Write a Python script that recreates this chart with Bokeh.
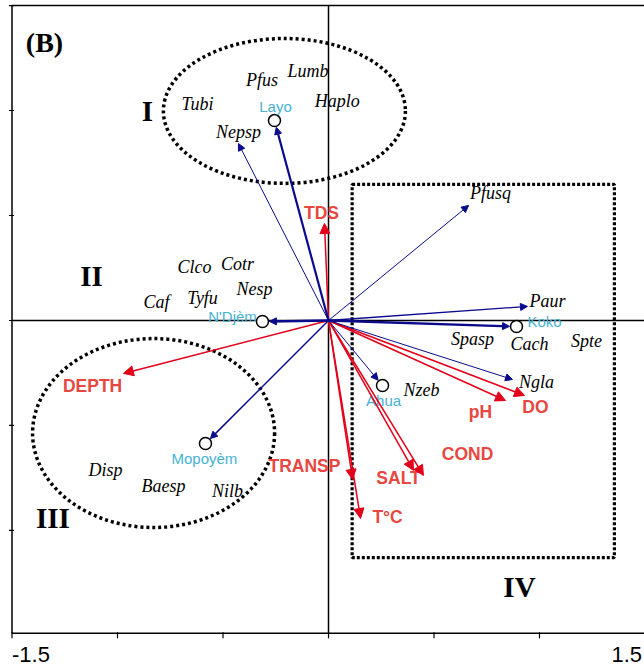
from bokeh.plotting import figure
from bokeh.models import Range1d, Arrow, NormalHead, ColumnDataSource
from bokeh.core.properties import value
from bokeh.embed import file_html
from bokeh.resources import INLINE

# ---------------- data ----------------
# environmental variables (red arrows)
env_names = ["TDS", "DEPTH", "TRANSP", "T°C", "SALT", "COND", "pH", "DO"]
env_x = [-0.019, -0.972, 0.114, 0.152, 0.403, 0.450, 0.839, 0.929]
env_y = [0.462, -0.252, -0.757, -0.943, -0.714, -0.738, -0.381, -0.357]
env_lab_x = [-0.033, -1.118, -0.114, 0.280, 0.332, 0.659, 0.720, 0.981]
env_lab_y = [0.514, -0.310, -0.695, -0.938, -0.752, -0.638, -0.438, -0.414]

# sampling sites (circles + navy arrows)
site_names = ["Layo", "Koko", "Ahua", "N'Djèm", "Mopoyèm"]
site_x = [-0.256, 0.891, 0.256, -0.313, -0.583]
site_y = [0.952, -0.029, -0.310, -0.005, -0.586]
site_w = [2.2, 2.4, 1.0, 2.4, 1.5]
site_lab_x = [-0.251, 1.024, 0.261, -0.455, -0.588]
site_lab_y = [1.019, -0.005, -0.381, 0.019, -0.657]

# species with arrows
sp_arrow_names = ["Nepsp", "Pfusq", "Paur", "Ngla"]
sp_arrow_x = [-0.427, 0.664, 0.943, 0.872]
sp_arrow_y = [0.843, 0.548, 0.067, -0.281]
sp_arrow_w = [1.0, 1.0, 1.3, 1.0]

# species labels
sp_names = ["Lumb", "Pfus", "Tubi", "Haplo", "Nepsp", "Pfusq", "Clco", "Cotr",
            "Nesp", "Caf", "Tyfu", "Paur", "Spasp", "Cach", "Spte", "Ngla",
            "Nzeb", "Disp", "Baesp", "Nilb"]
sp_x = [-0.097, -0.315, -0.621, 0.042, -0.427, 0.768, -0.635, -0.431,
        -0.351, -0.815, -0.597, 1.038, 0.682, 0.953, 1.223, 0.986,
        0.441, -1.057, -0.782, -0.479]
sp_y = [1.187, 1.143, 1.029, 1.044, 0.900, 0.605, 0.257, 0.271,
        0.152, 0.086, 0.105, 0.095, -0.090, -0.114, -0.100, -0.295,
        -0.333, -0.710, -0.790, -0.810]

# groups
grp_ell_x = [-0.209, -0.829]
grp_ell_y = [0.998, -0.536]
grp_ell_w = [1.147, 1.147]
grp_ell_h = [0.690, 0.900]
grp_rect = dict(left=[0.112], right=[1.355], top=[0.648], bottom=[-1.129])
grp_names = ["I", "II", "III", "IV"]
grp_lab_x = [-0.858, -1.123, -1.306, 0.905]
grp_lab_y = [1.000, 0.214, -0.943, -1.267]
panel_label = "(B)"
panel_lab_x, panel_lab_y = -1.346, 1.324

# axes
ax_x_min, ax_x_max = -1.5, 1.5
ax_y_min, ax_y_max = -1.49, 1.5
x_ticks = [-1.5, -1.0, -0.5, 0.0, 0.5, 1.0, 1.5]
y_ticks = [-1.0, -0.5, 0.0, 0.5, 1.0, 1.5]
x_tick_labels = ["-1.5", "1.5"]
x_tick_lab_pos = [-1.5, 1.5]
x_tick_lab_y = -1.59

# ---------------- styles ----------------
RED = "#E2001A"
RED_TXT = "#E84640"
NAVY = "#0A0A8C"
CYAN = "#45B2D3"

p = figure(width=644, height=670,
           x_range=Range1d(-1.5545, 1.4976), y_range=Range1d(-1.667, 1.524),
           output_backend="svg", toolbar_location=None,
           x_axis_location=None, y_axis_location=None,
           min_border=0)
p.xgrid.visible = False
p.ygrid.visible = False
p.outline_line_color = None

# frame box
p.quad(left=[ax_x_min], right=[ax_x_max], top=[ax_y_max], bottom=[ax_y_min],
       fill_color=None, line_color="black", line_width=1.5)
# ticks (left axis: 3px out, 2px in; bottom axis: 5px out, 1px in)
dx_out, dx_in = 3 / 211, 2 / 211
dy_out, dy_in = 5 / 210, 1 / 210
p.segment(x0=[ax_x_min - dx_out] * len(y_ticks), x1=[ax_x_min + dx_in] * len(y_ticks),
          y0=y_ticks, y1=y_ticks, line_color="black", line_width=1.2)
p.segment(x0=x_ticks, x1=x_ticks, y0=[ax_y_min - dy_out] * len(x_ticks),
          y1=[ax_y_min + dy_in] * len(x_ticks), line_color="black", line_width=1.2)
# centre axes
p.segment(x0=[0, ax_x_min], y0=[ax_y_min, 0], x1=[0, ax_x_max], y1=[ax_y_max, 0],
          line_color="black", line_width=1.5)

# tick labels
p.text(x=x_tick_lab_pos[:1], y=[x_tick_lab_y], text=x_tick_labels[:1],
       text_font=value("Liberation Sans"), text_font_size="22px", text_color="black",
       text_align="left", text_baseline="middle")
p.text(x=x_tick_lab_pos[1:], y=[x_tick_lab_y], text=x_tick_labels[1:],
       text_font=value("Liberation Sans"), text_font_size="22px", text_color="black",
       text_align="right", text_baseline="middle", x_offset=-3)

# groups
p.ellipse(x=grp_ell_x, y=grp_ell_y, width=grp_ell_w, height=grp_ell_h,
          fill_color=None, line_color="black", line_width=3.5, line_dash="3 3")
p.quad(fill_color=None, line_color="black", line_width=3.2, line_dash="3 2",
       **grp_rect)

# red arrows
env_src = ColumnDataSource(dict(x0=[0.0] * len(env_x), y0=[0.0] * len(env_y),
                                x1=env_x, y1=env_y))
p.add_layout(Arrow(source=env_src, x_start="x0", y_start="y0", x_end="x1", y_end="y1",
                   line_color=RED, line_width=1.5,
                   end=NormalHead(size=10, fill_color=RED, line_color=RED, line_width=1)))

# navy arrows to species
sp_src = ColumnDataSource(dict(x0=[0.0] * len(sp_arrow_x), y0=[0.0] * len(sp_arrow_y),
                               x1=sp_arrow_x, y1=sp_arrow_y, w=sp_arrow_w))
p.add_layout(Arrow(source=sp_src, x_start="x0", y_start="y0", x_end="x1", y_end="y1",
                   line_color=NAVY, line_width="w",
                   end=NormalHead(size=7, fill_color=NAVY, line_color=NAVY, line_width=1)))

# navy arrows to sites (stop at circle edge)
r = 0.033
sx1, sy1 = [], []
for x, y in zip(site_x, site_y):
    d = (x * x + y * y) ** 0.5
    sx1.append(x * (1 - r / d))
    sy1.append(y * (1 - r / d))
site_src = ColumnDataSource(dict(x0=[0.0] * len(site_x), y0=[0.0] * len(site_y),
                                 x1=sx1, y1=sy1, w=site_w))
p.add_layout(Arrow(source=site_src, x_start="x0", y_start="y0", x_end="x1", y_end="y1",
                   line_color=NAVY, line_width="w",
                   end=NormalHead(size=7, fill_color=NAVY, line_color=NAVY, line_width=1)))

p.scatter(x=site_x, y=site_y, marker="circle", size=12, fill_color="white",
          line_color="black", line_width=1.5)

# texts
p.text(x=sp_x, y=sp_y, text=sp_names, text_font=value("Liberation Serif"),
       text_font_style="italic", text_font_size="18px", text_color="black",
       text_align="center", text_baseline="middle")
p.text(x=site_lab_x, y=site_lab_y, text=site_names, text_font=value("Liberation Sans"),
       text_font_size="15px", text_color=CYAN,
       text_align="center", text_baseline="middle")
p.text(x=env_lab_x, y=env_lab_y, text=env_names, text_font=value("Liberation Sans"),
       text_font_style="bold", text_font_size="17.5px", text_color=RED_TXT,
       text_align="center", text_baseline="middle")
p.text(x=grp_lab_x, y=grp_lab_y, text=grp_names, text_font=value("Liberation Serif"),
       text_font_style="bold", text_font_size="29px", text_color="black",
       text_align="center", text_baseline="middle")
p.text(x=[panel_lab_x], y=[panel_lab_y], text=[panel_label],
       text_font=value("Liberation Serif"),
       text_font_style="bold", text_font_size="28px", text_color="black",
       text_align="center", text_baseline="middle")

open("out.html", "w").write(file_html(p, INLINE))
